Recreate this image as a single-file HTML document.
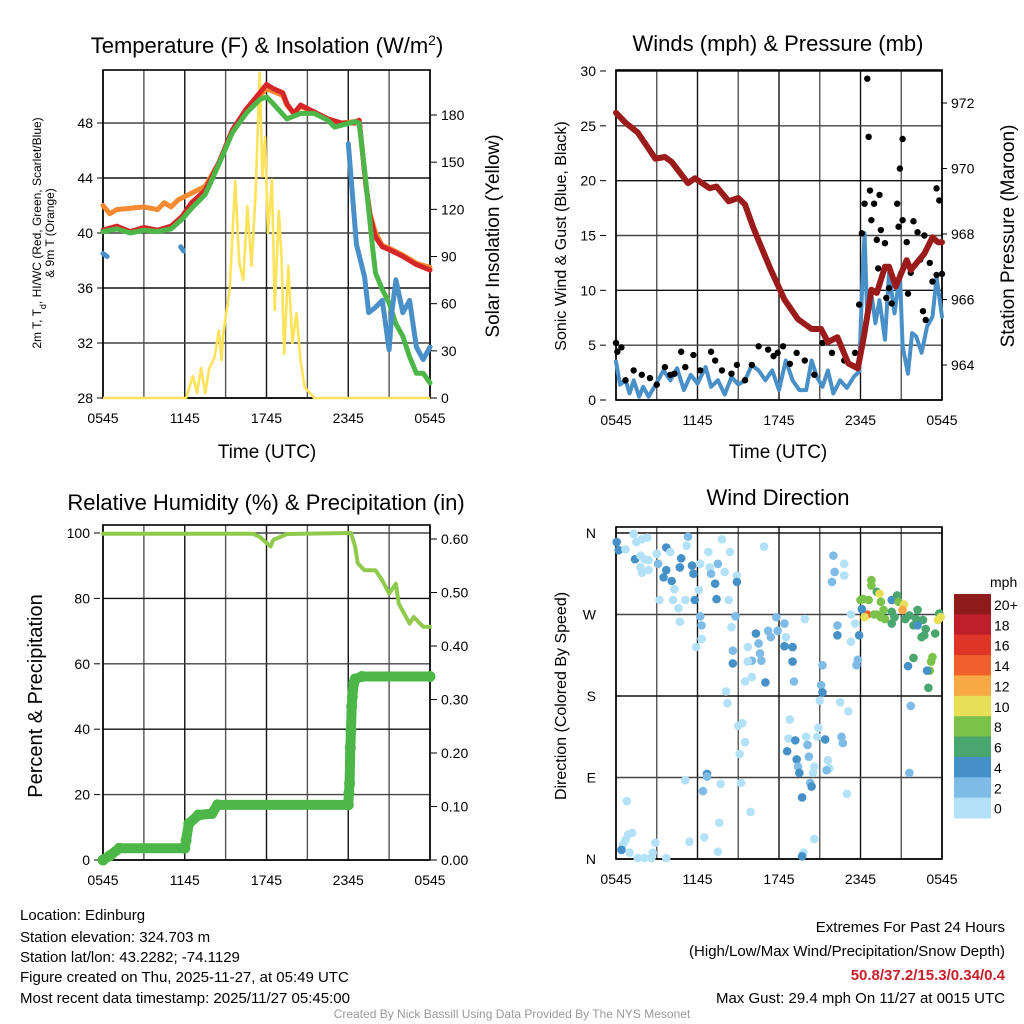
<!DOCTYPE html>
<html><head><meta charset="utf-8"><style>
html,body{margin:0;padding:0;background:#fff;}
svg{display:block;font-family:"Liberation Sans",Arial,sans-serif;}
</style></head><body>
<svg id="c" width="1024" height="1024" viewBox="0 0 1024 1024" xmlns="http://www.w3.org/2000/svg">
<rect width="1024" height="1024" fill="#fff"/>
<text x="267" y="53" font-size="22" text-anchor="middle">Temperature (F) &amp; Insolation (W/m<tspan baseline-shift="super" font-size="14">2</tspan>)</text>
<text x="778" y="51" font-size="22" text-anchor="middle">Winds (mph) &amp; Pressure (mb)</text>
<text x="266" y="510" font-size="22" text-anchor="middle">Relative Humidity (%) &amp; Precipitation (in)</text>
<text x="778" y="505" font-size="22" text-anchor="middle">Wind Direction</text>
<text x="267" y="458" font-size="19" text-anchor="middle">Time (UTC)</text>
<text x="778" y="458" font-size="19" text-anchor="middle">Time (UTC)</text>
<text font-size="12" text-anchor="middle" transform="translate(41,233) rotate(-90)">2m T, T<tspan baseline-shift="sub" font-size="9">d</tspan>, HI/WC (Red, Green, Scarlet/Blue)</text>
<text font-size="12" text-anchor="middle" transform="translate(54,233) rotate(-90)">&amp; 9m T (Orange)</text>
<text font-size="19" text-anchor="middle" transform="translate(499,236) rotate(-90)">Solar Insolation (Yellow)</text>
<text font-size="16" text-anchor="middle" transform="translate(566,236) rotate(-90)">Sonic Wind &amp; Gust (Blue, Black)</text>
<text font-size="19" text-anchor="middle" transform="translate(1014,236) rotate(-90)">Station Pressure (Maroon)</text>
<text font-size="20" text-anchor="middle" transform="translate(42,696) rotate(-90)">Percent &amp; Precipitation</text>
<text font-size="16" text-anchor="middle" transform="translate(566,696) rotate(-90)">Direction (Colored By Speed)</text>
<g font-size="15">
<text x="20" y="920">Location: Edinburg</text>
<text x="20" y="942">Station elevation: 324.703 m</text>
<text x="20" y="962">Station lat/lon: 43.2282; -74.1129</text>
<text x="20" y="982">Figure created on Thu, 2025-11-27, at 05:49 UTC</text>
<text x="20" y="1003">Most recent data timestamp: 2025/11/27 05:45:00</text>
</g>
<g font-size="15" text-anchor="end">
<text x="1005" y="932">Extremes For Past 24 Hours</text>
<text x="1005" y="956">(High/Low/Max Wind/Precipitation/Snow Depth)</text>
<text x="1005" y="980" fill="#c8202a" font-weight="bold">50.8/37.2/15.3/0.34/0.4</text>
<text x="1005" y="1003">Max Gust: 29.4 mph On 11/27 at 0015 UTC</text>
</g>
<text x="512" y="1018" font-size="12" fill="#999" text-anchor="middle">Created By Nick Bassill Using Data Provided By The NYS Mesonet</text>
<text x="990" y="587" font-size="14">mph</text>
</svg>
<script>
// ---------- data (hours since 0545 UTC) ----------
const xTickLabels = ["0545","1145","1745","2345","0545"];
const tempTicks = [28,32,36,40,44,48];
const solarTicks = [0,30,60,90,120,150,180];
const windTicks = [0,5,10,15,20,25,30];
const pressTicks = [964,966,968,970,972];
const rhTicks = [0,20,40,60,80,100];
const precipTicks = [0,0.1,0.2,0.3,0.4,0.5,0.6];
const dirTicks = [0,90,180,270,360];
const dirTickLabels = ["N","E","S","W","N"];
const speedBins = [0,2,4,6,8,10,12,14,16,18,20];
const speedBinLabels = ["0","2","4","6","8","10","12","14","16","18","20+"];
const speedColors = ["#b3e1f7","#7ebbe6","#4690c8","#48a66e","#7bc24b","#e7df57","#f6a944","#ef602c","#df3428","#bf1f2a","#8e1a1b"];

const redH = [0,1,2,3,4,5,5.8,6.5,7.5,8.5,9.5,10.5,11.5,12,12.5,13.2,13.5,14,14.5,15.5,16.5,17.5,18.5,18.8,19,19.3,19.6,20,20.5,21,22,23,24];
const redT = [40.2,40.5,40.1,40.4,40.2,40.5,41.2,42.2,43.1,45.1,47.5,49,50.2,50.8,50.5,50.2,49.4,48.7,49.3,48.8,48.3,48,48,48.2,46.3,43.4,41.2,39.7,39,38.8,38.3,37.7,37.3];
const greenH = [0,1,2,3,4,5,5.8,6.5,7.5,8.5,9.5,10.5,11.5,12,12.5,13.5,14.5,15.5,16.5,17,18.5,18.8,19.2,19.5,19.8,20,20.5,21,21.5,22,22.5,23,23.5,24];
const greenT = [40.1,40.3,40,40.2,40.1,40.3,41,41.8,42.8,45,47.3,48.7,49.7,49.9,49.4,48.3,48.7,48.7,48.2,47.7,48.1,48,44.6,41.7,38.8,37.1,35.9,34.9,33.4,32.5,31,29.8,29.8,29.1];
const orangeH = [0,0.5,1,2,3,4,4.5,5,5.5,6.5,7.5,8.5,9.5,10.5,11.5,12,12.5,13.2,13.5,14,14.5,15.5,16.5,17.5,18.5,18.8,19,19.3,19.6,20,20.5,21,22,23,24];
const orangeT = [42,41.4,41.7,41.8,41.9,41.7,42.2,41.9,42.4,42.9,43.4,45.1,47.4,48.8,50,50.5,50.3,50,49.3,48.7,49.2,48.8,48.3,48,48.1,48.2,46.3,43.5,41.4,40,39.1,38.9,38.4,37.8,37.5];
const blueSeg1H = [0,0.3], blueSeg1T = [38.5,38.3];
const blueSeg2H = [5.7,5.9], blueSeg2T = [39,38.7];
const blueSeg3H = [18,18.3,18.6,19.2,19.5,20,20.5,21,21.2,21.5,22,22.5,23,23.5,24];
const blueSeg3T = [46.5,42.9,39.2,36.8,34.2,34.6,35.1,31.5,34.2,36.6,34.2,35.1,31.7,30.8,31.7];
const solarH = [0,6.1,6.6,6.9,7.2,7.5,7.8,8.2,8.5,8.7,8.8,9.3,9.7,10,10.3,10.6,10.9,11.2,11.5,11.7,11.9,12.1,12.4,12.6,12.9,13.1,13.3,13.6,13.9,14.2,14.5,14.8,15.1,15.5,24];
const solarW = [0,0,14,3,19,3,19,26,43,24,39,69,138,86,75,122,84,130,207,141,166,105,139,56,119,90,28,84,35,54,24,7,4,0,0];

const pressH = [0,0.7,1.6,2.9,3.6,4.1,5.3,5.8,6.9,7.4,8.3,9,9.5,10.1,10.7,11.4,12.4,13.4,14.4,15.1,15.6,16.3,17.1,17.8,18.2,18.6,18.8,19.2,19.8,20.1,20.6,21.4,21.7,22.7,23.3,23.7,24];
const pressMb = [971.7,971.4,971.1,970.3,970.35,970.2,969.55,969.7,969.4,969.45,969,969.1,968.9,968.2,967.6,966.9,966,965.4,965.1,965.1,964.7,964.85,964.05,963.9,964.75,965.75,966.3,966.2,967,967,966.4,967.2,966.9,967.4,967.9,967.75,967.75];
const windH = [0,0.3,0.7,1,1.3,1.7,2,2.4,3.1,3.5,4,4.5,5,5.5,6,6.6,7,7.5,8,8.5,9,9.5,10,10.5,11,11.5,12,12.5,13,13.5,14,14.4,14.8,15.2,15.6,16,16.5,17,17.5,17.9,18.1,18.3,18.5,18.8,19.1,19.4,19.8,20.1,20.5,20.9,21.1,21.5,21.8,22.1,22.5,22.9,23.3,23.6,24];
const windMph = [3.5,1.4,1.8,0.6,1.8,0.3,1.2,0.3,1.8,2.7,1.8,2.9,0.9,2.3,1.5,3,1.2,1.8,0.5,2.1,1.4,1.8,3.2,2.7,1.8,2.7,0.9,3.6,1.8,0.9,0.9,3.6,2.1,1.2,2.7,0.6,1.8,1.1,2.1,2.6,9.7,15.2,7.3,9.7,7,9.1,5.5,11.6,7.9,11.6,4.9,2.4,6.1,5.8,4.3,6.7,7.6,11.2,7.6];
const gustH = [0,0.1,0.4,0.7,1.3,1.9,2.5,3,3.6,4,4.3,4.8,5.1,5.7,6.2,7,7.3,7.8,8.5,8.9,9.5,10,10.5,11.2,11.6,11.9,12.3,12.8,13.3,13.9,14.6,15.2,15.9,16.3,16.8,17.6,17.9,18.1,18.3,18.5,18.6,18.7,18.8,19,19.2,19.4,19.5,19.3,19.8,19.9,20.1,20.3,20.7,20.8,20.9,21.1,21.1,21.4,21.5,21.7,21.9,22.2,22.4,22.7,22.6,22.8,23.1,23.3,23.6,23.6,23.8,24];
const gustMph = [5.2,4.4,4.8,1.8,2.7,2.3,2,1.4,3,2.3,2.4,4.4,3,4.1,2.7,4.4,3.6,2.7,2.4,3.2,1.8,3.2,4.9,4.6,4,4.3,4.9,3.3,4.3,3.6,2.3,5.2,4.3,5.6,3.6,4.3,8.7,15.2,17.9,29.3,24,19.1,16.4,17.9,14.6,18.7,15.5,12,14.3,9.3,10.2,8.8,17.9,15.8,21.1,23.8,16.4,14.4,9.7,11.6,16.3,15.3,12.8,15,8.1,7.3,12.5,10.8,11.4,19.3,18.2,11.5];

const rhH = [0,11,11.5,12.3,12.5,13.5,18.2,18.5,18.7,19.2,20,20.5,21,21.5,21.7,22.5,22.8,23.5,24];
const rhPct = [99.8,99.8,98.8,95.9,97.9,99.7,100,95.9,90.7,88.6,88.6,85.5,81.5,84.5,78.4,72.3,74.3,71.3,71.3];
const precipH = [0,0.5,1.2,6,6.1,6.3,7,8,8.4,18,18.05,18.1,18.15,18.2,18.25,18.3,18.4,18.5,19,24];
const precipIn = [0,0.008,0.022,0.022,0.037,0.068,0.084,0.087,0.103,0.103,0.125,0.143,0.21,0.243,0.287,0.305,0.33,0.338,0.343,0.343];

const dirH = [0.05,0.2,0.7,1.3,1.5,1.9,2.3,1.4,1.8,2.1,2.4,1.8,1.9,2.4,3,3.1,3.7,4,3.7,3.5,4.1,4.3,4.7,4.8,5.2,5.3,5.6,5.7,6.2,6.1,3.2,4.2,4.6,5.1,5.8,6.8,6.9,7,7.3,7.4,7.5,7.8,8,8.3,8.4,8.9,8.9,10.9,16,16.1,15.9,16.8,16.8,4.7,6.2,6.3,6.3,5.9,8.5,8.8,8.6,8.6,9.7,10.3,10.5,10.6,11.2,11.4,11.9,12.4,12.5,11.8,10,10.7,9.7,9.5,10,11,12.4,13,13,13.1,13.9,16.3,16.3,17.3,17.6,17.3,17.9,17.8,17.7,15.2,15.1,15.2,15,16.5,17.1,8.1,8.2,9,9.3,9.5,9.1,12.8,12.7,13.2,14,14.1,14.2,14.8,14.9,15.4,16.6,16.7,12.6,13.3,13.4,13.5,14.6,14.5,15.6,15.7,15.5,14.3,14.4,13.7,17,21.7,21.6,5.1,6.7,6.7,6.4,7.7,9.2,9.9,7.6,0.8,1.2,0.9,0.7,0.5,0.4,1,1.6,2.1,2.6,2.7,2.9,3.7,5.4,6.5,7.5,13.8,13.7,14.6,18.8,18.8,18.2,18.6,19.2,19.4,19.5,19.7,20.3,20.7,20.8,21.2,21.1,20.3,20.5,19.8,19.5,20.3,21.3,21.6,22.2,22.1,21.9,22.6,22.8,22.7,23.5,22.5,23.3,23.2,23.1,21.9,21.5,22.9,23,23.8,23.7,23.9,18.5,18.3,18.1,18,19,19.2,22.2];
const dirDeg = [350,341,342,359,350,353,355,331,335,331,330,322,316,319,337,326,344,339,319,311,307,298,322,332,346,356,324,315,326,297,286,286,277,286,286,339,322,315,304,287,326,353,317,286,339,313,306,345,335,317,306,326,313,262,268,258,243,234,256,268,230,216,234,249,238,227,252,245,252,260,245,267,219,219,218,196,201,195,235,234,218,196,265,258,247,240,260,270,247,220,214,214,192,184,175,173,163,185,172,147,150,129,116,154,133,131,135,126,113,135,145,132,135,128,119,110,102,95,102,95,109,100,98,84,80,68,72,169,95,87,94,91,75,83,84,52,40,64,29,27,21,16,10,7,1,1,1,7,18,1,19,24,8,7,3,22,308,302,287,286,295,293,284,275,286,291,284,281,275,273,267,265,267,260,265,269,275,265,258,264,254,247,249,245,223,218,208,222,213,208,189,271,264,267,270,267,276,286,270,270,258];
const dirSpd = [4,4,0,0,0,0,0,4,0,0,0,0,0,0,0,2,4,0,4,4,4,0,4,4,0,2,4,4,0,0,0,0,0,0,4,0,0,2,4,4,2,0,0,0,0,0,4,0,2,2,2,0,0,0,2,2,0,0,0,2,2,4,0,4,2,2,2,2,2,2,0,2,2,2,0,0,0,4,4,4,4,2,0,2,4,0,0,0,4,2,2,2,2,4,0,0,0,0,0,0,0,0,0,0,0,4,0,2,2,0,0,4,2,2,4,4,2,4,0,0,0,0,2,2,4,4,0,2,2,0,4,2,2,0,0,0,0,0,0,0,0,0,4,0,0,0,0,0,0,0,0,0,0,0,4,0,8,8,8,8,6,10,8,8,4,6,8,10,12,6,6,8,8,6,6,6,6,6,6,6,6,6,6,6,8,8,8,6,4,4,6,6,10,10,14,10,4,8,8,8,4];

// ---------- drawing ----------
const svg = document.getElementById('c');
const NS = 'http://www.w3.org/2000/svg';
function mk(tag, attrs, parent) {
  const e = document.createElementNS(NS, tag);
  for (const k in attrs) e.setAttribute(k, attrs[k]);
  (parent || svg).appendChild(e);
  return e;
}
function txt(s, attrs, parent) { const e = mk('text', attrs, parent); e.textContent = s; return e; }

const P = {
  t: {x0:103, x1:430, y0:70, y1:398},
  w: {x0:616, x1:942, y0:70, y1:400},
  r: {x0:103, x1:430, y0:525, y1:860},
  d: {x0:616, x1:942, y0:527, y1:859}
};
const xs = p => h => p.x0 + h / 24 * (p.x1 - p.x0);
const lin = (d0, d1, r0, r1) => v => r0 + (v - d0) / (d1 - d0) * (r1 - r0);
const xT = xs(P.t), xW = xs(P.w), xR = xs(P.r), xD = xs(P.d);
const yTemp = lin(28, 48, 398, 123);
const ySol = lin(0, 180, 398, 115);
const yWind = lin(0, 30, 400, 71);
const yPress = lin(964, 972, 365, 103);
const yRH = lin(0, 100, 860, 533);
const yPr = lin(0, 0.6, 860, 539);
const yDir = lin(0, 360, 859, 533);

function frame(p, name, hLines, yClipTop) {
  const g = mk('g', {});
  
  
  for (let i = 0; i <= 8; i++) {
    const x = p.x0 + i * (p.x1 - p.x0) / 8;
    mk('line', {x1:x, x2:x, y1:p.y0, y2:p.y1, stroke: i%2 ? '#555' : '#111', 'stroke-width':1.4}, g);
  }
  hLines.forEach((y, i) => mk('line', {x1:p.x0, x2:p.x1, y1:y, y2:y, stroke: i%2 ? '#444':'#111', 'stroke-width':1.4}, g));
  mk('rect', {x:p.x0, y:p.y0, width:p.x1-p.x0, height:p.y1-p.y0, fill:'none', stroke:'#000', 'stroke-width':1.6}, g);
  xTickLabels.forEach((l, i) => {
    const t = txt(l, {x: p.x0 + i*(p.x1-p.x0)/4, y: p.y1 + 25, 'font-size':14, 'text-anchor':'middle'}, g);
    
    
  });
}
function tickLabels(vals, yf, x, anchor, fmt, name) {
  vals.forEach(v => {
    const t = txt(fmt(v), {x:x, y:yf(v)+5, 'font-size':14, 'text-anchor':anchor});
    
    
    const xx = anchor === 'end' ? x + 4 : x - 4;
    mk('line', {x1:xx, x2:anchor === 'end' ? xx+6 : xx-6, y1:yf(v), y2:yf(v), stroke:'#000', 'stroke-width':1});
  });
}
function path(hs, vs, xf, yf, color, w, name, clip) {
  let d = hs.map((h, i) => (i ? 'L' : 'M') + xf(h).toFixed(1) + ' ' + yf(vs[i]).toFixed(1)).join(' ');
  const e = mk('path', {d:d, fill:'none', stroke:color, 'stroke-width':w, 'stroke-linejoin':'round', 'stroke-linecap':'round'});
  if (clip) e.setAttribute('clip-path', clip);
  
  
  return e;
}

// clip paths
const defs = mk('defs', {});
const cp1 = mk('clipPath', {id:'cpT'}, defs); mk('rect', {x:103, y:70, width:327, height:330}, cp1);

// Panel 1
frame(P.t, 'temp', tempTicks.map(yTemp));
tickLabels(tempTicks, yTemp, 93, 'end', v => String(v), 'temp-y-tick');
tickLabels(solarTicks, ySol, 441, 'start', v => String(v), 'solar-y-tick');
path(solarH, solarW, xT, ySol, '#fde35a', 2.6, 'solar-insolation-line', 'url(#cpT)');
path(orangeH, orangeT, xT, yTemp, '#f58a32', 5, 'temp-9m-line');
path(redH, redT, xT, yTemp, '#d7262a', 5, 'temp-2m-line');
path(greenH, greenT, xT, yTemp, '#4cb748', 5, 'dewpoint-line');
path(blueSeg1H, blueSeg1T, xT, yTemp, '#4a90c8', 5, 'windchill-line-1');
path(blueSeg2H, blueSeg2T, xT, yTemp, '#4a90c8', 5, 'windchill-line-2');
path(blueSeg3H, blueSeg3T, xT, yTemp, '#4a90c8', 5, 'windchill-line-3');

// Panel 2
frame(P.w, 'wind', windTicks.map(yWind));
tickLabels(windTicks, yWind, 596, 'end', v => String(v), 'wind-y-tick');
tickLabels(pressTicks, yPress, 951, 'start', v => String(v), 'pressure-y-tick');
path(windH, windMph, xW, yWind, '#4a90c8', 4, 'sonic-wind-line');
gustH.forEach((h, i) => {
  const c = mk('circle', {cx:xW(h), cy:yWind(gustMph[i]), r:3.2, fill:'#000'});
  
  
});
path(pressH, pressMb, xW, yPress, '#9b1b1b', 6, 'pressure-line');

// Panel 3
frame(P.r, 'rh', rhTicks.map(yRH));
tickLabels(rhTicks, yRH, 90, 'end', v => String(v), 'rh-y-tick');
tickLabels(precipTicks, yPr, 441, 'start', v => v.toFixed(2), 'precip-y-tick');
path(rhH, rhPct, xR, yRH, '#8fca4c', 4, 'rh-line');
path(precipH, precipIn, xR, yPr, '#4cb748', 10, 'precip-line');
precipH.forEach((h, i) => {
  const c = mk('circle', {cx:xR(h), cy:yPr(precipIn[i]), r:5.5, fill:'#4cb748'});
  
  
});

// Panel 4
frame(P.d, 'direction', dirTicks.map(yDir));
dirTicks.forEach((v, i) => {
  const t = txt(dirTickLabels[i], {x:596, y:yDir(v)+5, 'font-size':14, 'text-anchor':'end'});
  
  
});
function spdColor(s) { let k = 0; speedBins.forEach((b, i) => { if (s >= b) k = i; }); return speedColors[k]; }
dirH.forEach((h, i) => {
  const c = mk('circle', {cx:xD(h), cy:yDir(dirDeg[i]), r:4.3, fill:spdColor(dirSpd[i])});
  
  
});

// colorbar
const cbTop = 594, cbBot = 818, cbH = (cbBot - cbTop) / speedColors.length;
for (let i = 0; i < speedColors.length; i++) {
  const k = speedColors.length - 1 - i;
  const r = mk('rect', {x:954, y:cbTop + i*cbH, width:37, height:cbH+0.5, fill:speedColors[k]});
  
  
  const t = txt(speedBinLabels[k], {x:994, y:cbTop + i*cbH + 16, 'font-size':14});
  
  
}
</script>
</body></html>
